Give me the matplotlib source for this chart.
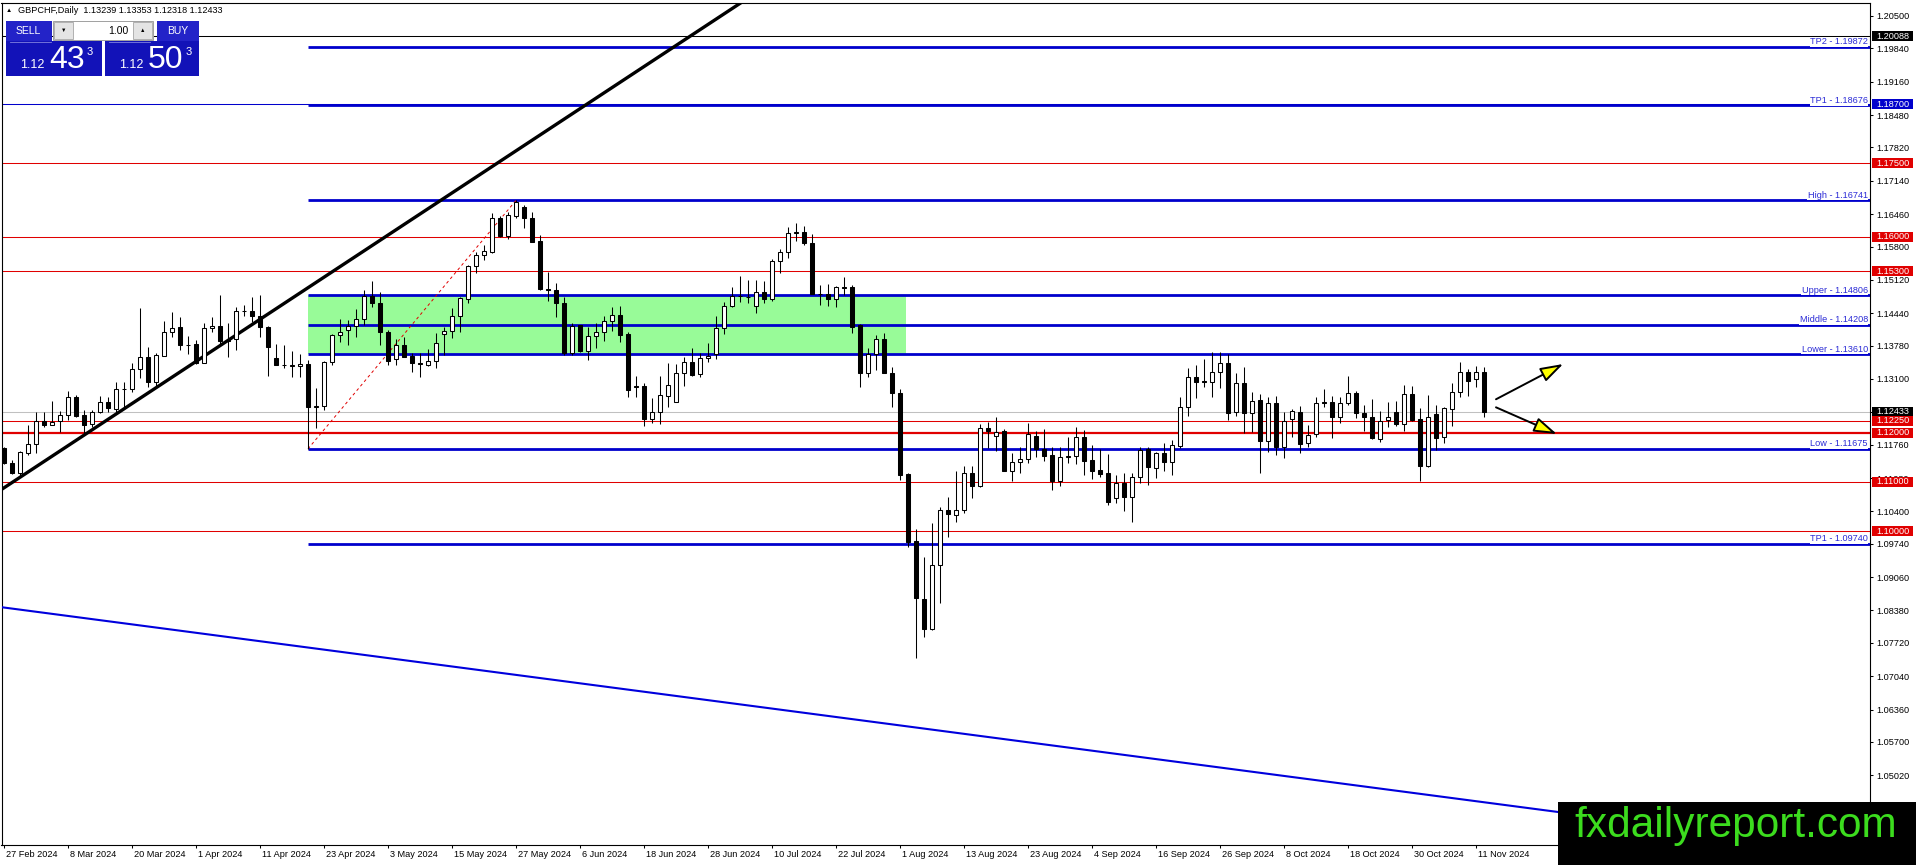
import matplotlib
matplotlib.use("Agg")
import matplotlib.pyplot as plt
from matplotlib.patches import Rectangle
from matplotlib.transforms import ScaledTranslation
import numpy as np

plt.rcParams['font.family'] = ['Liberation Sans', 'DejaVu Sans']

# daily GBPCHF candles, 27 Feb 2024 .. 12 Nov 2024
opens = [1.11686, 1.11393, 1.1119, 1.11597, 1.11774, 1.12237, 1.12168, 1.12237, 1.12359, 1.12739,
         1.12366, 1.12175, 1.12419, 1.12631, 1.12482, 1.12889, 1.12889, 1.13297, 1.13542, 1.13045,
         1.13575, 1.14051, 1.14152, 1.138, 1.13813, 1.13432, 1.14132, 1.1418, 1.139, 1.13909,
         1.14492, 1.14485, 1.14384, 1.14166, 1.13521, 1.13392, 1.13371, 1.13358, 1.13405, 1.12535,
         1.12549, 1.13453, 1.1399, 1.14098, 1.1418, 1.14316, 1.14792, 1.14642, 1.14064, 1.135,
         1.13793, 1.13568, 1.13419, 1.13392, 1.13473, 1.14017, 1.14071, 1.14384, 1.14724, 1.15403,
         1.15621, 1.15695, 1.16376, 1.16022, 1.16423, 1.166, 1.16376, 1.15919, 1.14927, 1.14914,
         1.14642, 1.13623, 1.14194, 1.13677, 1.13976, 1.14064, 1.14289, 1.14404, 1.14017, 1.12949,
         1.12957, 1.12284, 1.12419, 1.12759, 1.12637, 1.13215, 1.13439, 1.13195, 1.13521, 1.13603,
         1.14132, 1.14594, 1.14785, 1.14779, 1.14588, 1.1488, 1.14724, 1.15512, 1.15695, 1.16083,
         1.1609, 1.15878, 1.14826, 1.14833, 1.14737, 1.14968, 1.14968, 1.142, 1.13228, 1.13609,
         1.13909, 1.13228, 1.12807, 1.11163, 1.09803, 1.08608, 1.07996, 1.09305, 1.10429, 1.10327,
         1.10429, 1.11176, 1.10918, 1.12094, 1.11937, 1.12046, 1.1123, 1.11414, 1.11462, 1.11937,
         1.11665, 1.1155, 1.11026, 1.11503, 1.11523, 1.1191, 1.11448, 1.11244, 1.11177, 1.10666,
         1.10973, 1.107, 1.11095, 1.11665, 1.11278, 1.11584, 1.11414, 1.11733, 1.12535, 1.13134,
         1.13052, 1.13045, 1.13236, 1.13432, 1.12433, 1.13024, 1.124, 1.12671, 1.11842, 1.12603,
         1.11706, 1.12277, 1.12433, 1.11788, 1.11971, 1.12637, 1.12637, 1.12331, 1.12617, 1.1282,
         1.124, 1.12318, 1.1187, 1.12264, 1.12433, 1.12182, 1.12794, 1.12277, 1.11326, 1.12386,
         1.1191, 1.12481, 1.12828, 1.13236, 1.13093, 1.13239]
highs = [1.1171, 1.11448, 1.11632, 1.12168, 1.12433, 1.12433, 1.12651, 1.12447, 1.12855, 1.12773,
         1.12468, 1.12468, 1.12753, 1.12726, 1.13031, 1.13045, 1.1342, 1.14541, 1.13758, 1.13624,
         1.14282, 1.14471, 1.14357, 1.13976, 1.13895, 1.14234, 1.14357, 1.14812, 1.14234, 1.14574,
         1.14608, 1.14765, 1.14812, 1.1418, 1.13813, 1.13793, 1.13677, 1.13609, 1.13487, 1.1291,
         1.13473, 1.14017, 1.14316, 1.14302, 1.1452, 1.14914, 1.15104, 1.1488, 1.14098, 1.13909,
         1.13962, 1.13623, 1.13623, 1.13705, 1.14044, 1.14153, 1.14541, 1.14778, 1.15424, 1.15695,
         1.15831, 1.16478, 1.16423, 1.16512, 1.16741, 1.16647, 1.16512, 1.16035, 1.15287, 1.15051,
         1.14778, 1.14248, 1.14194, 1.14166, 1.14234, 1.14384, 1.14574, 1.14588, 1.14064, 1.13161,
         1.13011, 1.12705, 1.13161, 1.1342, 1.13405, 1.13554, 1.13725, 1.13623, 1.13827, 1.14384,
         1.14676, 1.14982, 1.15199, 1.15118, 1.15118, 1.15104, 1.1554, 1.15743, 1.16192, 1.16274,
         1.16219, 1.16062, 1.15016, 1.15037, 1.14995, 1.15172, 1.15016, 1.14221, 1.13725, 1.13997,
         1.14044, 1.1335, 1.12889, 1.1119, 1.10035, 1.09477, 1.1017, 1.10483, 1.107, 1.11231,
         1.11326, 1.11326, 1.12182, 1.12229, 1.12318, 1.12073, 1.11597, 1.1172, 1.12195, 1.12046,
         1.12073, 1.11706, 1.1172, 1.11923, 1.12114, 1.1206, 1.11754, 1.11665, 1.1157, 1.11142,
         1.11177, 1.11177, 1.11706, 1.11706, 1.11618, 1.11801, 1.11856, 1.12726, 1.13317, 1.13385,
         1.135, 1.13656, 1.13656, 1.13609, 1.13228, 1.1335, 1.12841, 1.12794, 1.12739, 1.12753,
         1.12433, 1.12481, 1.12549, 1.12162, 1.12726, 1.12889, 1.12753, 1.12726, 1.13161, 1.12861,
         1.12569, 1.12685, 1.12454, 1.12637, 1.12657, 1.12977, 1.12957, 1.12502, 1.12773, 1.12569,
         1.12535, 1.13024, 1.13453, 1.13297, 1.13364, 1.13353]
lows = [1.1136, 1.11163, 1.11122, 1.1155, 1.11585, 1.12127, 1.12155, 1.12025, 1.12264, 1.12332,
        1.11958, 1.12127, 1.12399, 1.12433, 1.12413, 1.12497, 1.12841, 1.13114, 1.1293, 1.1291,
        1.13562, 1.1395, 1.13691, 1.13609, 1.13405, 1.13418, 1.14064, 1.13813, 1.13542, 1.13691,
        1.14384, 1.14268, 1.13962, 1.13167, 1.13378, 1.13317, 1.13133, 1.13133, 1.11675, 1.12094,
        1.12467, 1.13385, 1.1386, 1.13793, 1.13962, 1.142, 1.14561, 1.13793, 1.13385, 1.13385,
        1.1354, 1.13249, 1.13147, 1.13365, 1.13317, 1.13589, 1.13928, 1.14064, 1.14655, 1.15267,
        1.15526, 1.15662, 1.16001, 1.15947, 1.16376, 1.16172, 1.15899, 1.14914, 1.14696, 1.14357,
        1.13589, 1.13589, 1.13657, 1.13487, 1.13725, 1.13881, 1.14085, 1.1386, 1.12726, 1.12739,
        1.12141, 1.12209, 1.12182, 1.12535, 1.12623, 1.12964, 1.1316, 1.13133, 1.13453, 1.135,
        1.14017, 1.14574, 1.14676, 1.14655, 1.14451, 1.14655, 1.14696, 1.15254, 1.1556, 1.15919,
        1.15831, 1.14826, 1.14608, 1.14588, 1.14561, 1.14812, 1.14044, 1.1293, 1.13147, 1.13283,
        1.13228, 1.12535, 1.1104, 1.0968, 1.07405, 1.07846, 1.07988, 1.08526, 1.09885, 1.1019,
        1.10374, 1.10666, 1.10891, 1.11686, 1.11638, 1.1123, 1.11026, 1.11177, 1.11393, 1.11503,
        1.11434, 1.10836, 1.10918, 1.11393, 1.11366, 1.11142, 1.11054, 1.11095, 1.10531, 1.10578,
        1.10415, 1.1019, 1.10986, 1.1094, 1.11074, 1.1123, 1.11142, 1.11686, 1.12345, 1.12706,
        1.1293, 1.12739, 1.1291, 1.12264, 1.12345, 1.12005, 1.12026, 1.11177, 1.11618, 1.1155,
        1.11482, 1.1191, 1.11597, 1.1172, 1.1191, 1.12535, 1.1189, 1.12209, 1.12569, 1.12298,
        1.12046, 1.1187, 1.11822, 1.12114, 1.12141, 1.12046, 1.1225, 1.11026, 1.11299, 1.11652,
        1.11801, 1.12141, 1.12739, 1.12753, 1.1293, 1.12318]
closes = [1.11381, 1.1119, 1.11605, 1.11774, 1.12237, 1.12168, 1.12223, 1.12359, 1.12726, 1.12345,
          1.12162, 1.12419, 1.12623, 1.12516, 1.12889, 1.12896, 1.13297, 1.13542, 1.13045, 1.13583,
          1.14051, 1.14145, 1.13787, 1.13787, 1.13432, 1.14132, 1.1418, 1.13881, 1.1387, 1.14492,
          1.14485, 1.14384, 1.14153, 1.13746, 1.13385, 1.13385, 1.13378, 1.13405, 1.12535, 1.1254,
          1.13453, 1.13997, 1.14064, 1.1418, 1.14316, 1.14792, 1.14642, 1.14064, 1.13473, 1.13793,
          1.13554, 1.13419, 1.13412, 1.1346, 1.13827, 1.14071, 1.14384, 1.14744, 1.15403, 1.15621,
          1.15703, 1.16376, 1.16015, 1.16444, 1.16715, 1.16376, 1.15899, 1.14927, 1.1492, 1.14642,
          1.13623, 1.1418, 1.13677, 1.13976, 1.14064, 1.14289, 1.14404, 1.13997, 1.12869, 1.12936,
          1.12284, 1.12419, 1.12773, 1.12977, 1.13215, 1.13439, 1.13181, 1.13521, 1.13568, 1.14132,
          1.14594, 1.14798, 1.14798, 1.14772, 1.1488, 1.14724, 1.15512, 1.15695, 1.16083, 1.1609,
          1.15878, 1.14826, 1.14833, 1.14737, 1.14968, 1.14961, 1.14166, 1.13228, 1.13609, 1.13909,
          1.13228, 1.12807, 1.11142, 1.09783, 1.08628, 1.07996, 1.09305, 1.10429, 1.10347, 1.10429,
          1.11176, 1.10918, 1.12094, 1.12046, 1.12026, 1.1123, 1.11414, 1.11468, 1.11971, 1.11665,
          1.1153, 1.11026, 1.11503, 1.11523, 1.1191, 1.11434, 1.1123, 1.11163, 1.10598, 1.10973,
          1.107, 1.11095, 1.11652, 1.11299, 1.11584, 1.11414, 1.11747, 1.12535, 1.13147, 1.13045,
          1.13038, 1.13236, 1.13432, 1.12413, 1.13024, 1.124, 1.12657, 1.11842, 1.12603, 1.11706,
          1.1225, 1.12454, 1.11774, 1.11958, 1.12603, 1.12603, 1.12331, 1.12617, 1.12808, 1.124,
          1.12318, 1.1189, 1.1225, 1.12318, 1.12182, 1.12794, 1.12264, 1.11326, 1.12331, 1.1189,
          1.12502, 1.12828, 1.13236, 1.13065, 1.13236, 1.12433]

date_labels = ['27 Feb 2024', '8 Mar 2024', '20 Mar 2024', '1 Apr 2024', '11 Apr 2024',
               '23 Apr 2024', '3 May 2024', '15 May 2024', '27 May 2024', '6 Jun 2024',
               '18 Jun 2024', '28 Jun 2024', '10 Jul 2024', '22 Jul 2024', '1 Aug 2024',
               '13 Aug 2024', '23 Aug 2024', '4 Sep 2024', '16 Sep 2024', '26 Sep 2024',
               '8 Oct 2024', '18 Oct 2024', '30 Oct 2024', '11 Nov 2024']
label_step = 8

price_ticks = [1.20500, 1.19840, 1.19160, 1.18480, 1.17820, 1.17140, 1.16460, 1.15800,
               1.15120, 1.14440, 1.13780, 1.13100, 1.12420, 1.11760, 1.11080, 1.10400,
               1.09740, 1.09060, 1.08380, 1.07720, 1.07040, 1.06360, 1.05700, 1.05020]

red_levels = [1.17500, 1.16000, 1.15300, 1.12250, 1.12000, 1.11000, 1.10000]
blue_levels = [1.19872, 1.18676, 1.16741, 1.14806, 1.14208, 1.13610, 1.11675, 1.09740]
blue_names = ['TP2', 'TP1', 'High', 'Upper', 'Middle', 'Lower', 'Low', 'TP1']
levels_start = 38
zone_end = 112.8
zone_low, zone_high = 1.13610, 1.14806

bid = 1.12433
top_line = 1.20088
tp_line = 1.18700

trend_up_x, trend_up_y = [-0.09, 32.0], [1.10871, 1.14316]
trend_down_x, trend_down_y = [-0.5, 194.25], [1.08451, 1.04272]
swing_x, swing_y = [38, 64], [1.11675, 1.16741]
arrow_up_x, arrow_up_y = [186.5, 194.9], [1.12686, 1.13405]
arrow_dn_x, arrow_dn_y = [186.5, 194.1], [1.12522, 1.11978]

axis_boxes = [(1.20088, 'black'), (1.18700, '#0000cc'), (1.17500, '#e00000'),
              (1.16000, '#e00000'), (1.15300, '#e00000'), (1.12433, 'black'),
              (1.12250, '#e00000'), (1.12000, '#e00000'), (1.11000, '#e00000'),
              (1.10000, '#e00000')]

W, H = 1916, 865
BLUE = '#0000cc'
RED = '#e00000'
FS = 6.6

fig = plt.figure(figsize=(W / 100, H / 100), dpi=100)
fig.patch.set_facecolor('white')
ax = fig.add_axes([1.5 / W, (H - 845) / H, (1870 - 1.5) / W, (845 - 2.5) / H])
ax.set_xlim((1.5 - 4) / 8, (1870 - 4) / 8)
ax.set_ylim(1.205 - 829 / 4905, 1.205 + 13.5 / 4905)
for s in ax.spines.values():
    s.set_color('black')
    s.set_linewidth(0.8)

x = np.arange(len(opens))
o = np.array(opens); h = np.array(highs); l = np.array(lows); c = np.array(closes)
xmax = ax.get_xlim()[1]

# objects
ax.add_patch(Rectangle((levels_start, zone_low), zone_end - levels_start, zone_high - zone_low,
                       fc='#98fb98', ec='none', zorder=1))
ax.axhline(top_line, color='black', lw=0.75, zorder=2)
ax.axhline(tp_line, color=BLUE, lw=0.75, zorder=2)
ax.axhline(bid, color='#c0c0c0', lw=0.75, zorder=2)
for r in red_levels:
    ax.axhline(r, color=RED, lw=1.6 if r == 1.12 else 0.75, zorder=2)
ax.hlines(blue_levels, levels_start, xmax, color=BLUE, lw=2.0, zorder=2)
ax.plot(swing_x, swing_y, color=RED, lw=0.7, ls=(0, (3, 3)), zorder=2)
ax.axline((trend_up_x[0], trend_up_y[0]), (trend_up_x[1], trend_up_y[1]), color='black', lw=2.4, zorder=3)
ax.axline((trend_down_x[0], trend_down_y[0]), (trend_down_x[1], trend_down_y[1]), color='#0000dd', lw=1.5, zorder=3)

# candles
up = c >= o
ax.vlines(x, l, h, color='black', lw=0.75, zorder=4)
ax.bar(x, np.abs(c - o), bottom=np.minimum(o, c), width=0.6,
       color=np.where(up, 'white', 'black'), edgecolor='black', linewidth=0.75, zorder=5)

# arrows
for ax_x, ax_y in [(arrow_up_x, arrow_up_y), (arrow_dn_x, arrow_dn_y)]:
    ax.annotate('', xy=(ax_x[1], ax_y[1]), xytext=(ax_x[0], ax_y[0]),
                arrowprops=dict(arrowstyle='-|>,head_length=1.4,head_width=0.45',
                                fc='yellow', ec='black', lw=1.4, mutation_scale=10,
                                shrinkA=0, shrinkB=0), zorder=6)

# level labels
ytrans = ax.get_yaxis_transform()
lift = ScaledTranslation(0, 0.4 / 100, fig.dpi_scale_trans)
for lvl, name in zip(blue_levels, blue_names):
    ax.text((1868 - 1.5) / 1868.5, lvl, f'{name} - {lvl:.5f}', ha='right', va='bottom',
            color='#2b2bd6', fontsize=FS, transform=ytrans + lift, zorder=7,
            bbox=dict(fc='white', ec='none', pad=0.3))

# right price axis
ax.yaxis.tick_right()
ax.set_yticks(price_ticks)
ax.set_yticklabels([f'{v:.5f}' for v in price_ticks])
ax.tick_params(axis='y', length=2.2, width=0.75, pad=2.5, labelsize=FS, colors='black')
ax.set_xticks(x[::label_step])
ax.set_xticklabels(date_labels, ha='left')
ax.tick_params(axis='x', length=2.2, width=0.75, pad=1.5, labelsize=FS)
shift = ScaledTranslation(2 / 100, 0, fig.dpi_scale_trans)
for lab in ax.get_xticklabels():
    lab.set_transform(lab.get_transform() + shift)

bx0 = (1872 - 1.5) / 1868.5
bw = 41 / 1868.5
bh = 5 / 4905
for p, col in axis_boxes:
    ax.add_patch(Rectangle((bx0, p - bh), bw, 2 * bh, transform=ytrans, fc=col, ec='none',
                           clip_on=False, zorder=10))
    ax.text(bx0 + bw / 2, p, f'{p:.5f}', transform=ytrans, ha='center', va='center',
            color='white', fontsize=FS, clip_on=False, zorder=11)

# overlay: header, trade panel, watermark (pixel coordinates)
ov = fig.add_axes([0, 0, 1, 1], zorder=10)
ov.set_xlim(0, W)
ov.set_ylim(H, 0)
ov.axis('off')
ov.patch.set_alpha(0)

ov.text(6, 10.5, '▲', fontsize=4.5, va='center', ha='left', color='black')
ov.text(18, 10.5, 'GBPCHF,Daily  1.13239 1.13353 1.12318 1.12433', fontsize=FS, va='center', ha='left')

ov.add_patch(Rectangle((6, 21), 46, 20, fc='#2323c8', ec='none'))
ov.text(28, 31, 'SELL', color='white', fontsize=7.5, ha='center', va='center')
ov.add_patch(Rectangle((53, 21), 100, 19, fc='white', ec='#a0a0a0', lw=0.7))
ov.add_patch(Rectangle((54, 22), 19, 17, fc='#e4e4e4', ec='#b0b0b0', lw=0.7))
ov.add_patch(Rectangle((133, 22), 19, 17, fc='#e4e4e4', ec='#b0b0b0', lw=0.7))
ov.text(63.5, 30.5, '▼', fontsize=4, ha='center', va='center', color='black')
ov.text(142.5, 30.5, '▲', fontsize=4, ha='center', va='center', color='black')
ov.text(128, 30.5, '1.00', fontsize=7.5, ha='right', va='center', color='black')
ov.add_patch(Rectangle((157, 21), 42, 20, fc='#2323c8', ec='none'))
ov.text(178, 31, 'BUY', color='white', fontsize=7.5, ha='center', va='center')

for x0, big in [(6, '43'), (105, '50')]:
    ov.add_patch(Rectangle((x0, 41), 96 if x0 == 6 else 94, 35, fc='#1212b8', ec='none'))
    ov.plot([x0 + 4, x0 + 45], [42, 42], color='#8080e0', lw=0.6)
    ov.text(x0 + 14, 68, '1.12', color='white', fontsize=9, ha='left', va='baseline')
    ov.text(x0 + 43, 68, big, color='white', fontsize=23, ha='left', va='baseline')
    ov.text(x0 + 81, 55, '3', color='white', fontsize=8, ha='left', va='baseline')

ov.add_patch(Rectangle((1558, 802), W - 1558, H - 802, fc='black', ec='none'))
ov.text(1736, 837, 'fxdailyreport.com', color='#3cdc1e', fontsize=30.5, ha='center', va='baseline')

fig.savefig('out.png', dpi=100)
